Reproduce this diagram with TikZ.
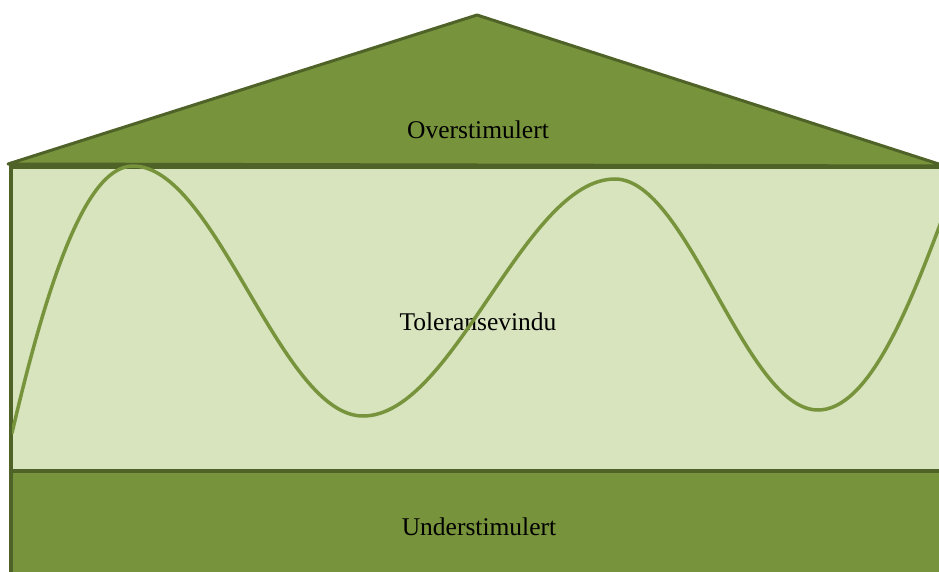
\documentclass[tikz,border=0pt]{standalone}
\usepackage{fontspec}
\setmainfont{Liberation Serif}
\definecolor{darkolive}{HTML}{4F6228}
\definecolor{olive}{HTML}{77933C}
\definecolor{paleolive}{HTML}{D7E4BD}
\tikzset{
  band/.style={draw=darkolive, line width=4pt},
  label/.style={font=\fontsize{25.5}{28}\selectfont, text=black, anchor=base, inner sep=0pt},
  wave/.style={draw=olive, line width=3.5pt, line cap=round}
}
\begin{document}
\begin{tikzpicture}[x=1pt,y=-1pt]
\useasboundingbox (0,0) rectangle (939,572);
% bottom band
\fill[olive] (10,471) rectangle (945,580);
% middle band
\fill[paleolive] (10,167) rectangle (945,471);
% roof
\filldraw[fill=olive, draw=darkolive, line width=3pt, line join=round] (8,164) -- (477,15) -- (945,166) -- cycle;
% band borders
\draw[band] (10.5,167) -- (945,167);
\draw[band] (10.5,471) -- (945,471);
\draw[band] (10.5,165) -- (10.5,580);
% labels
\node[label] (over) at (478,139) {Overstimulert};
\node[label] (tol) at (478,330) {Toleransevindu};
\node[label] (under) at (479,535) {Understimulert};
% wave
\begin{scope}
\clip (12,160) rectangle (939,471);
\draw[wave] (12,433) .. controls (50,270) and (88,166) .. (133,166)
  .. controls (216,166) and (280,416) .. (363,416)
  .. controls (454,416) and (524,179) .. (615,179)
  .. controls (688,179) and (745,410) .. (818,410)
  .. controls (868,410) and (908,310) .. (941,222);
\end{scope}
\end{tikzpicture}
\end{document}
